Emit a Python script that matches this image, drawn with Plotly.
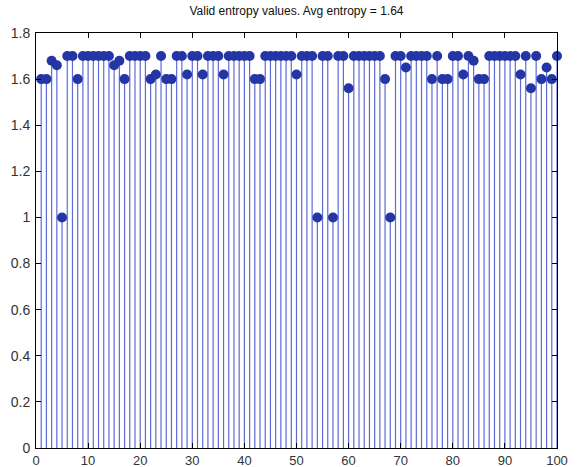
import plotly.graph_objects as go

# entropy value of each of the 100 samples
sample_idx = list(range(1, 101))
entropy = [
    1.60, 1.60, 1.68, 1.66, 1.00, 1.70, 1.70, 1.60, 1.70, 1.70,
    1.70, 1.70, 1.70, 1.70, 1.66, 1.68, 1.60, 1.70, 1.70, 1.70,
    1.70, 1.60, 1.62, 1.70, 1.60, 1.60, 1.70, 1.70, 1.62, 1.70,
    1.70, 1.62, 1.70, 1.70, 1.70, 1.62, 1.70, 1.70, 1.70, 1.70,
    1.70, 1.60, 1.60, 1.70, 1.70, 1.70, 1.70, 1.70, 1.70, 1.62,
    1.70, 1.70, 1.70, 1.00, 1.70, 1.70, 1.00, 1.70, 1.70, 1.56,
    1.70, 1.70, 1.70, 1.70, 1.70, 1.70, 1.60, 1.00, 1.70, 1.70,
    1.65, 1.70, 1.70, 1.70, 1.70, 1.60, 1.70, 1.60, 1.60, 1.70,
    1.70, 1.62, 1.70, 1.68, 1.60, 1.60, 1.70, 1.70, 1.70, 1.70,
    1.70, 1.70, 1.62, 1.70, 1.56, 1.70, 1.60, 1.65, 1.60, 1.70,
]
avg_entropy = sum(entropy) / len(entropy)

x_ticks = [0, 10, 20, 30, 40, 50, 60, 70, 80, 90, 100]
y_ticks = [0, 0.2, 0.4, 0.6, 0.8, 1.0, 1.2, 1.4, 1.6, 1.8]
y_tick_text = ["0", "0.2", "0.4", "0.6", "0.8", "1", "1.2", "1.4", "1.6", "1.8"]

# stem segments from the baseline up to each value
stem_x, stem_y = [], []
for k, v in zip(sample_idx, entropy):
    stem_x += [k, k, None]
    stem_y += [0, v, None]

fig = go.Figure()
fig.add_trace(go.Scatter(
    x=stem_x, y=stem_y, mode="lines",
    line=dict(color="#5e6bd4", width=1.2),
    hoverinfo="skip", showlegend=False,
))
fig.add_trace(go.Scatter(
    x=sample_idx, y=entropy, mode="markers",
    marker=dict(color="#2436a6", size=10, line=dict(width=0)),
    cliponaxis=False, showlegend=False,
))

axis_common = dict(
    showgrid=False, zeroline=False, automargin=False,
    showline=True, linecolor="#000000", linewidth=1, mirror="ticks",
    ticks="inside", ticklen=5, tickcolor="#000000",
)
label_font = dict(family="Liberation Sans, Arial, sans-serif", color="#333333")

fig.update_layout(
    width=578, height=467,
    margin=dict(l=36, r=21, t=33, b=19),
    paper_bgcolor="#ffffff", plot_bgcolor="#ffffff",
    title=dict(
        text=f"Valid entropy values. Avg entropy = {avg_entropy:.2f}",
        x=0.5, xanchor="center", xref="paper", y=0.985, yanchor="top",
        font=dict(family="Liberation Sans, Arial, sans-serif", size=12, color="#111111"),
    ),
    xaxis=dict(range=[0, 100], tickvals=x_ticks, ticklabelstandoff=0,
               tickfont=dict(size=13, **label_font), **axis_common),
    yaxis=dict(range=[0, 1.8], tickvals=y_ticks, ticktext=y_tick_text, ticklabelstandoff=2,
               tickfont=dict(size=14, **label_font), **axis_common),
)

fig.write_html("out.html")
